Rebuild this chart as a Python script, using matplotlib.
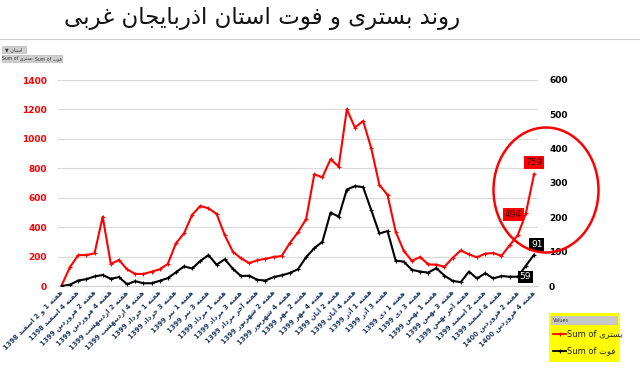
import numpy as np
import matplotlib.pyplot as plt
from matplotlib.patches import Ellipse, Rectangle
from matplotlib.lines import Line2D

# --- data ---
hospitalized = [10, 130, 210, 210, 222, 471, 150, 177, 113, 82, 82, 97, 113, 150, 290,
                358, 485, 544, 528, 490, 345, 233, 188, 156, 175, 185, 197, 204, 292,
                365, 455, 759, 739, 862, 811, 1201, 1076, 1122, 936, 687, 619, 369, 238,
                171, 197, 147, 145, 131, 191, 242, 215, 195, 220, 224, 205, 276, 345,
                494, 759]
deaths = [0, 4, 16, 20, 28, 32, 21, 26, 5, 14, 8, 8, 15, 23, 40, 57, 51, 73, 90, 62,
          78, 50, 29, 30, 18, 16, 26, 31, 38, 49, 84, 110, 129, 214, 202, 281, 291, 288,
          221, 153, 160, 74, 71, 47, 42, 39, 52, 30, 15, 11, 42, 22, 37, 22, 29, 27, 27,
          59, 91]
week_labels = [
    "هفته 1 و 2 اسفند 1398", "هفته 4 اسفند 1398", "هفته 2 فروردین 1399",
    "هفته 4 فروردین 1399", "هفته 2 اردیبهشت 1399", "هفته 4 اردیبهشت 1399",
    "هفته 1 خرداد 1399", "هفته 3 خرداد 1399", "هفته 1 تیر 1399", "هفته 3 تیر 1399",
    "هفته 1 مرداد 1399", "هفته 3 مرداد 1399", "هفته آخر مرداد 1399",
    "هفته 2 شهریور 1399", "هفته 4 شهریور 1399", "هفته 2 مهر 1399", "هفته 4 مهر 1399",
    "هفته 2 آبان 1399", "هفته 4 آبان 1399", "هفته 1 آذر 1399", "هفته 3 آذر 1399",
    "هفته 1 دی 1399", "هفته 3 دی 1399", "هفته 1 بهمن 1399", "هفته 3 بهمن 1399",
    "هفته آخر بهمن 1399", "هفته 2 اسفند 1399", "هفته 4 اسفند 1399",
    "هفته 2 فروردین 1400", "هفته 4 فروردین 1400",
]
title = "روند بستری و فوت استان اذربایجان غربی"
name_hosp = "بستری"
name_death = "فوت"

# --- minimal persian shaping (matplotlib has no arabic shaping / bidi) ---
FORMS = {
    'ا': ('\ufe8d', '\ufe8e'), 'آ': ('\ufe81', '\ufe82'), 'د': ('\ufea9', '\ufeaa'),
    'ذ': ('\ufeab', '\ufeac'), 'ر': ('\ufead', '\ufeae'), 'ز': ('\ufeaf', '\ufeb0'),
    'و': ('\ufeed', '\ufeee'),
    'ب': ('\ufe8f', '\ufe90', '\ufe91', '\ufe92'), 'ت': ('\ufe95', '\ufe96', '\ufe97', '\ufe98'),
    'ج': ('\ufe9d', '\ufe9e', '\ufe9f', '\ufea0'), 'خ': ('\ufea5', '\ufea6', '\ufea7', '\ufea8'),
    'س': ('\ufeb1', '\ufeb2', '\ufeb3', '\ufeb4'), 'ش': ('\ufeb5', '\ufeb6', '\ufeb7', '\ufeb8'),
    'غ': ('\ufecd', '\ufece', '\ufecf', '\ufed0'), 'ف': ('\ufed1', '\ufed2', '\ufed3', '\ufed4'),
    'م': ('\ufee1', '\ufee2', '\ufee3', '\ufee4'), 'ن': ('\ufee5', '\ufee6', '\ufee7', '\ufee8'),
    'ه': ('\ufee9', '\ufeea', '\ufeeb', '\ufeec'), 'ی': ('\ufeef', '\ufef0', '\ufef3', '\ufef4'),
}


def shape(word):
    out = []
    for i, c in enumerate(word):
        if c not in FORMS:
            out.append(c)
            continue
        f = FORMS[c]
        prev = word[i - 1] if i > 0 else None
        nxt = word[i + 1] if i + 1 < len(word) else None
        jp = prev is not None and len(FORMS.get(prev, ())) == 4
        jn = len(f) == 4 and nxt in FORMS
        if jp and jn:
            out.append(f[3])
        elif jp:
            out.append(f[1])
        elif jn:
            out.append(f[2])
        else:
            out.append(f[0])
    return ''.join(out)


def fa(text):
    toks = text.split(' ')
    vis = [shape(t)[::-1] if any(ch in FORMS for ch in t) else t for t in toks]
    return ' '.join(reversed(vis))


W, H = 640, 370


def P(x, y):
    return x / W, 1 - y / H


plt.rcParams['font.family'] = 'DejaVu Sans'
fig = plt.figure(figsize=(6.4, 3.7), dpi=100)

fig.text(*P(262, 19), fa(title), ha='center', va='center', fontsize=16.5, color='#111111')
fig.add_artist(Line2D([0, 1], [1 - 39 / H] * 2, color='#d0d0d0', lw=0.8))

# pivot filter buttons
fig.add_artist(Rectangle(P(2, 53), 24 / W, 7 / H, fc='#cfcfcf', ec='#b0b0b0', lw=0.4))
fig.text(*P(14, 49.5), '\u25bc ' + fa("استان"), fontsize=3.5, ha='center', va='center', color='#333')
fig.add_artist(Rectangle(P(2, 62), 31 / W, 7 / H, fc='#cfcfcf', ec='#b0b0b0', lw=0.4))
fig.add_artist(Rectangle(P(34, 62), 28 / W, 7 / H, fc='#cfcfcf', ec='#b0b0b0', lw=0.4))
fig.text(*P(17.5, 58.5), 'Sum of ' + fa(name_hosp), fontsize=3.3, ha='center', va='center', color='#333')
fig.text(*P(48, 58.5), 'Sum of ' + fa(name_death), fontsize=3.3, ha='center', va='center', color='#333')

ax = fig.add_axes([58 / W, 84 / H, 480 / W, 206 / H])
x = np.arange(len(hospitalized))
ax.plot(x, hospitalized, color='red', lw=1.5, marker='+', ms=2.5, mew=0.8, zorder=3)
ax.set_xlim(-0.49, len(x) - 0.51)
ax.set_ylim(0, 1400)
ax.set_yticks(range(0, 1401, 200))
ax.yaxis.grid(True, color='#dadada', lw=0.8)
ax.set_axisbelow(True)
for s in ['top', 'left', 'right']:
    ax.spines[s].set_visible(False)
ax.spines['bottom'].set_color('#d0d0d0')
ax.tick_params(axis='y', length=0, pad=8, labelcolor='red', labelsize=6.5)
for t in ax.get_yticklabels():
    t.set_fontweight('bold')
ax.set_xticks(x[::2])
ax.set_xticklabels([fa(s) for s in week_labels], rotation=45, ha='right', va='center',
                   rotation_mode='anchor', fontsize=4.9, fontweight='bold', color='#1f3864')
ax.tick_params(axis='x', length=0, pad=4)

ax2 = ax.twinx()
ax2.plot(x, deaths, color='black', lw=1.5, marker='+', ms=2.5, mew=0.8)
ax2.set_ylim(0, 600)
ax2.set_yticks(range(0, 601, 100))
for s in ax2.spines.values():
    s.set_visible(False)
ax2.tick_params(axis='y', length=0, pad=8, labelsize=6.5)
for t in ax2.get_yticklabels():
    t.set_fontweight('bold')

# data labels
box_r = dict(boxstyle='square,pad=0.2', fc='red', ec='none')
box_k = dict(boxstyle='square,pad=0.2', fc='black', ec='none')
n = len(x) - 1
ax.annotate(str(hospitalized[n]), (x[n], hospitalized[n]), xytext=(0, 8.5), textcoords='offset points',
            ha='center', va='center', fontsize=6.5, color='#3a0000', bbox=box_r, zorder=5)
ax.annotate(str(hospitalized[n - 1]), (x[n - 1], hospitalized[n - 1]), xytext=(-9, -1),
            textcoords='offset points', ha='center', va='center', fontsize=6.5, color='#3a0000',
            bbox=box_r, zorder=5)
ax2.annotate(str(deaths[n]), (x[n], deaths[n]), xytext=(2, 7.5), textcoords='offset points',
             ha='center', va='center', fontsize=6.5, color='white', bbox=box_k, zorder=5)
ax2.annotate(str(deaths[n - 1]), (x[n - 1], deaths[n - 1]), xytext=(-0.5, -8), textcoords='offset points',
             ha='center', va='center', fontsize=6.5, color='white', bbox=box_k, zorder=5)

# highlight ring
fig.add_artist(Ellipse(P(546, 190), 105 / W, 125 / H, fill=False, ec='red', lw=1.8))

# legend box
fig.add_artist(Rectangle(P(549, 362), 71 / W, 49 / H, fc='#ffff00', ec='none'))
fig.add_artist(Rectangle(P(551, 325), 67 / W, 9 / H, fc='#c8c8c8', ec='none'))
fig.text(*P(553, 320.5), 'Values', fontsize=3.5, va='center', color='#333')
for yy, col, nm in [(334, 'red', name_hosp), (351, 'black', name_death)]:
    fig.add_artist(Line2D([553 / W, 566 / W], [1 - yy / H] * 2, color=col, lw=1.3))
    fig.add_artist(Line2D([559.5 / W], [1 - yy / H], color=col, marker='+', ms=3, mew=0.8))
    fig.text(*P(567, yy), 'Sum of ' + fa(nm), fontsize=6, va='center', color='#222')

fig.savefig('out.png', dpi=100)
